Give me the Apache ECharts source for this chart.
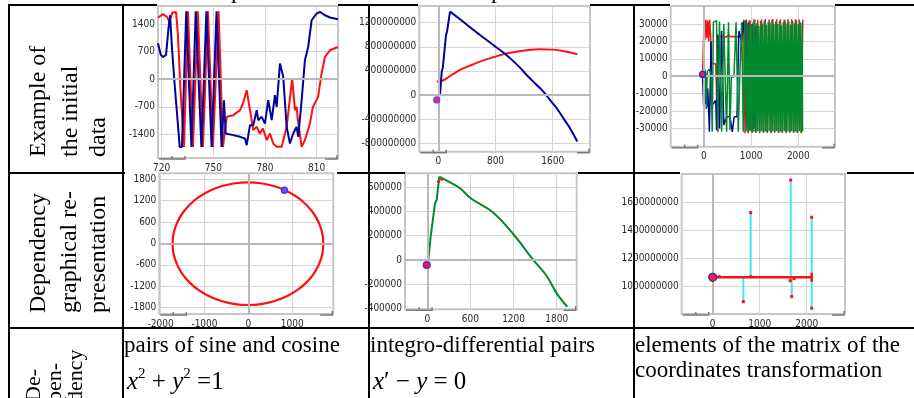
<!DOCTYPE html>
<html>
<head>
<meta charset="utf-8">
<script src="https://cdn.jsdelivr.net/npm/echarts@6/dist/echarts.min.js"></script>
<style>
  html, body { margin: 0; padding: 0; background: #fff; }
  #chart { width: 914px; height: 398px; }
</style>
</head>
<body>
<div id="chart"></div>
<script>

// row 1, col 1: initial data (two channels)
const c1XTicks = [720, 750, 780, 810];
const c1YTicks = [-1400, -700, 0, 700, 1400];
const c1Red = [[717.9,1560],[720.8,1650],[723.1,1580],[724.6,1450],[726.2,1690],[728.4,1700],[729.5,1100],[731,-300],[733,-1720],[734,-1720],[735.3,1720],[736,1720],[738.2,-1720],[738.9,-1720],[741,1720],[741.7,1720],[744,-1720],[744.7,-1720],[746.9,1720],[747.5,1720],[749.8,-1720],[750.4,-1720],[753.1,1720],[753.8,1720],[755.6,-1720],[756.2,-1720],[757.8,-955],[761.6,-913],[765.5,-786],[767.2,-617],[769.4,-280],[771.3,-786],[773.2,-1293],[775.2,-1209],[777.1,-1378],[778.8,-1251],[781,-1547],[782.9,-1378],[784.8,-1632],[786.8,-1717],[789.7,-1717],[792.6,-1209],[795.8,17],[797.4,-786],[798.4,-700],[799,-1000],[801.3,-1717],[803.2,-1547],[806.1,-1125],[807.8,-710],[810.8,-456],[812.9,152],[814.8,558],[817.7,735],[821.6,803],[822.4,810]];
const c1Blue = [[717.9,913],[719.5,620],[720.8,560],[722.6,620],[724,1300],[724.9,1620],[726,800],[727.5,-100],[729,-900],[730.5,-1720],[731.8,-1720],[734.3,1720],[735,1720],[737.3,-1720],[737.9,-1720],[739.8,1720],[740.4,1720],[743.1,-1720],[743.7,-1720],[746,1720],[746.6,1720],[749,-1720],[749.6,-1720],[751.9,1720],[752.5,1720],[754.8,-1720],[755.4,-1720],[756.2,-533],[757.2,-1378],[761.6,-1420],[765.5,-1463],[768.4,-1505],[769.4,-1674],[771.3,-1167],[773.2,-1167],[775.2,-786],[776.1,-1040],[778.1,-955],[780,-1125],[781.9,-533],[783.9,-1040],[785.8,-406],[786.8,-702],[788.7,397],[790.6,59],[792.6,-1209],[794.5,-1632],[796.4,-1378],[798.4,-1209],[799.3,-1463],[801.3,-533],[803.2,482],[805.1,820],[807.1,1496],[810,1666],[811.9,1707],[814.8,1623],[817.7,1565],[822.4,1522]];

// row 1, col 2
const c2XTicks = [0, 800, 1600];
const c2YTicks = [-800000000, -400000000, 0, 400000000, 800000000, 1200000000];
const c2BlueRise = [[-22,-82e6],[24,0],[48,387e6],[64,460e6],[108,996e6],[122,1050e6],[164,1383e6]];
const c2BlueFall = [[164,1383e6],[304,1256e6],[443,1123e6],[583,996e6],[769,830e6],[909,705e6],[1003,612e6],[1143,454e6],[1236,333e6],[1376,167e6],[1469,56e6],[1562,-82e6],[1656,-220e6],[1749,-386e6],[1842,-552e6],[1944,-773e6]];
const c2Red = [[-22,222e6],[48,233e6],[118,277e6],[210,349e6],[304,416e6],[443,487e6],[583,554e6],[769,626e6],[909,675e6],[1049,709e6],[1236,742e6],[1422,758e6],[1608,753e6],[1796,719e6],[1944,675e6]];
const c2Start = [[-22,-82e6]];

// row 1, col 3
const c3XTicks = [0, 1000, 2000];
const c3YTicks = [-30000, -20000, -10000, 0, 10000, 20000, 30000];
const c3Red = [[-30,1000],[0,30000],[20,21000],[40,32500],[60,22000],[80,32000],[100,20000],[120,32500],[140,24000],[160,7500],[250,7000],[290,-32000],[320,23000],[400,22700],[480,22500],[520,24000],[560,22700],[650,22800],[760,22500],[820,23000],[840,32500],[870,-32800],[900,32600],[940,-32900],[980,32000],[1020,-32700],[1060,32800],[1100,-32600],[1140,32400],[1180,-32800],[1220,32700],[1260,-32500],[1300,32900],[1340,-32600],[1380,32600],[1420,-32800],[1460,32900],[1500,-32500],[1540,32700],[1580,-32700],[1620,32800],[1660,-32600],[1700,32600],[1740,-32800],[1780,32900],[1820,-32500],[1860,32700],[1900,-32700],[1940,32800],[1980,-32600],[2020,32600],[2060,-32800],[2095,32500]];
const c3Blue = [[-30,1000],[0,-22000],[15,-8000],[30,-16000],[45,-5000],[60,-18000],[80,-7000],[100,-20000],[115,-32000],[130,-10000],[150,20000],[162,-17000],[250,-14000],[268,-31000],[290,24000],[330,-30000],[374,26000],[420,-28000],[480,-23300],[551,-23300],[600,-32000],[640,-23300],[700,-23300],[740,26000],[800,20000],[830,31000],[860,24000],[880,32000],[904,-30000],[940,31000],[980,-31000],[1020,30000],[1060,-30000],[1100,29000]];
const c3Green = [[-30,1000],[0,4500],[30,3000],[50,-19000],[70,2500],[110,4000],[150,1500],[175,-32000],[200,31000],[240,32000],[268,32000],[290,-32000],[330,31500],[374,-32000],[420,30000],[480,-32000],[520,31000],[551,-31000],[580,0],[635,-500],[680,31000],[727,-32000],[760,500],[800,31000],[833,-32000],[868,32000],[880,31500],[900,-31800],[920,30000],[940,-32200],[960,32200],[980,-31500],[1000,29000],[1020,-32400],[1040,31000],[1060,-31900],[1080,32500],[1100,-32300],[1120,30500],[1140,-31600],[1160,28800],[1180,-32100],[1200,31800],[1220,-31700],[1240,30200],[1260,-32300],[1280,32000],[1300,-31900],[1320,29500],[1340,-32000],[1360,31200],[1380,-31600],[1400,30800],[1420,-32200],[1440,32300],[1460,-31800],[1480,29800],[1500,-32100],[1520,31500],[1540,-31700],[1560,30000],[1580,-32300],[1600,31800],[1620,-31900],[1640,29200],[1660,-32000],[1680,31000],[1700,-31600],[1720,32000],[1740,-32200],[1760,30500],[1780,-31800],[1800,31300],[1820,-32100],[1840,29600],[1860,-31700],[1880,31800],[1900,-32300],[1920,30400],[1940,-31900],[1960,32100],[1980,-32000],[2000,29900],[2020,-31600],[2040,31000],[2060,-32200],[2080,30600],[2090,-31800]];
const c3Start = [[-30,1000]];

// row 2, col 1: sine / cosine pairs
const c4XTicks = [-2000, -1000, 0, 1000];
const c4YTicks = [-1800, -1200, -600, 0, 600, 1200, 1800];
const c4Circle = [[1712,-5],[1686,294],[1608,583],[1482,855],[1310,1101],[1098,1313],[852,1485],[580,1611],[291,1689],[-8,1715],[-307,1689],[-596,1611],[-868,1485],[-1114,1313],[-1326,1101],[-1498,855],[-1624,583],[-1702,294],[-1728,-5],[-1702,-304],[-1624,-593],[-1498,-865],[-1326,-1111],[-1114,-1323],[-868,-1495],[-596,-1621],[-307,-1699],[-8,-1725],[291,-1699],[580,-1621],[852,-1495],[1098,-1323],[1310,-1111],[1482,-865],[1608,-593],[1686,-304],[1712,-5]];
const c4Dot = [[822,1494]];

// row 2, col 2: integro-differential pairs
const c5XTicks = [0, 600, 1200, 1800];
const c5YTicks = [-400000, -200000, 0, 200000, 400000, 600000];
const c5Rise = [[-8,-42000],[14,0],[47,192000],[107,468000],[131,495000],[167,688000]];
const c5Fall = [[167,688000],[270,655000],[455,592000],[604,509000],[918,390000],[1206,206000],[1474,0],[1661,-133000],[1800,-276000],[1947,-387000]];
const c5Start = [[-8,-42000]];
const c5Dots = [[153,647000],[200,666000]];

// row 2, col 3: matrix elements
const c6XTicks = [0, 1000, 2000];
const c6YTicks = [1000000000, 1200000000, 1400000000, 1600000000];
const c6Base = [[0,1067e6],[2106,1067e6]];
const c6Stems = [[651,893e6,1067e6],[808,1067e6,1529e6],[1660,1043e6,1762e6],[1681,929e6,1067e6],[2106,846e6,1496e6]];
const c6Dots = [[140,1072e6],[651,893e6],[808,1529e6],[808,1072e6],[1650,1043e6],[1660,1762e6],[1681,929e6],[1730,1058e6],[2106,1496e6],[2106,846e6]];
const c6Start = [[0,1067e6]];

// table texts
const rowHeads = [
  ['Example of', 'the initial', 'data'],
  ['Dependency', 'graphical re-', 'presentation'],
  ['De-', 'pen-', 'dency']
];
const col1Text = 'pairs of sine and cosine';
const col2Text = 'integro-differential pairs';
const col3Text = ['elements of the matrix of the', 'coordinates transformation'];

// ---- layout / style ----
const SERIF = "'Liberation Serif', 'Times New Roman', serif";
const AXISFONT = "'Liberation Sans Narrow', 'Arial Narrow', 'DejaVu Sans Condensed', sans-serif";
const RED = '#ff1010', BLUE = '#00009c', GREEN = '#008a2e', CYAN = '#40e8f0';

const panels = [
  { rect: [158, 6, 180, 152],        x: [717.9, 822.4], y: [-2000, 1857],     xt: c1XTicks, yt: c1YTicks, zx: false, zy: true },
  { rect: [419.3, 6, 170.7, 145.7],  x: [-265.7, 2121.7], y: [-941e6, 1477e6], xt: c2XTicks, yt: c2YTicks, zx: true, zy: true },
  { rect: [670.7, 6, 164.3, 140.7],  x: [-705, 2777],   y: [-40540, 40370],   xt: c3XTicks, yt: c3YTicks, zx: true, zy: true },
  { rect: [159.3, 173.3, 174, 140.7], x: [-2030, 1938], y: [-1977, 1968],     xt: c4XTicks, yt: c4YTicks, zx: true, zy: true },
  { rect: [405, 173.3, 171.7, 136],  x: [-310, 2078],   y: [-408000, 715700], xt: c5XTicks, yt: c5YTicks, zx: true, zy: true },
  { rect: [681.7, 174, 163.3, 140],  x: [-660, 2815],   y: [805e6, 1805e6],   xt: c6XTicks, yt: c6YTicks, zx: true, zy: false }
];

function axis(dim, i, ext, ticks) {
  return {
    type: 'value', gridIndex: i, min: ext[0], max: ext[1],
    position: dim === 'x' ? 'bottom' : 'left',
    axisLine: { show: false, onZero: false },
    axisTick: { show: false, customValues: ticks },
    axisLabel: {
      customValues: ticks, margin: dim === 'x' ? 5 : 3,
      fontFamily: AXISFONT, fontSize: 10, color: '#2a2a2a',
      formatter: (v) => String(v), hideOverlap: false
    },
    splitLine: { show: true, lineStyle: { color: '#d4d4d4', width: 1 } },
    splitArea: { show: false }
  };
}

const grid = [], xAxis = [], yAxis = [], series = [];
panels.forEach((p, i) => {
  grid.push({
    left: p.rect[0], top: p.rect[1], width: p.rect[2], height: p.rect[3],
    show: true, backgroundColor: '#fff', borderColor: '#c6c6c6', borderWidth: 2,
    containLabel: false, outerBoundsMode: 'none'
  });
  xAxis.push(axis('x', i, p.x, p.xt));
  yAxis.push(axis('y', i, p.y, p.yt));
  const zeros = [];
  if (p.zx) zeros.push({ xAxis: 0 });
  if (p.zy) zeros.push({ yAxis: 0 });
  series.push({
    type: 'line', xAxisIndex: i, yAxisIndex: i, data: [], z: 1, silent: true,
    markLine: {
      silent: true, symbol: 'none', animation: false, label: { show: false },
      lineStyle: { color: '#b8b8b8', width: 2, type: 'solid' }, data: zeros
    }
  });
});

function line(i, data, color, width, extra) {
  return Object.assign({
    type: 'line', xAxisIndex: i, yAxisIndex: i, data: data,
    symbol: 'none', showSymbol: false, silent: true, animation: false,
    lineStyle: { color: color, width: width }, itemStyle: { color: color }
  }, extra || {});
}
function dots(i, data, fill, border, size, symbol) {
  return {
    type: 'scatter', xAxisIndex: i, yAxisIndex: i, data: data, symbolSize: size,
    symbol: symbol || 'circle', silent: true, animation: false, z: 5,
    itemStyle: { color: fill, borderColor: border || fill, borderWidth: border ? 1.2 : 0, opacity: 1 }
  };
}

series.push(line(0, c1Red, RED, 2));
series.push(line(0, c1Blue, BLUE, 2));

series.push(line(1, c2Red, RED, 2, { smooth: 0.4 }));
series.push(line(1, c2BlueRise, BLUE, 2));
series.push(line(1, c2BlueFall, BLUE, 2, { smooth: 0.4 }));
series.push(dots(1, c2Start, '#ff2050', '#5050ff', 6));

series.push(line(2, c3Red, RED, 1.5));
series.push(line(2, c3Blue, BLUE, 1.5));
series.push(line(2, c3Green, GREEN, 1.5));
series.push(dots(2, c3Start, '#ff2020', '#2020ff', 6));

series.push(line(3, c4Circle, RED, 2.2, { smooth: 0.3 }));
series.push(dots(3, c4Dot, '#8050d0', '#3030ff', 6));

series.push(line(4, c5Rise, GREEN, 2));
series.push(line(4, c5Fall, GREEN, 2, { smooth: 0.4 }));
series.push(dots(4, c5Dots, RED, null, 3));
series.push(dots(4, c5Start, '#ff1030', '#3030ff', 7));

c6Stems.forEach((s) => {
  series.push(line(5, [[s[0], s[1]], [s[0], s[2]]], CYAN, 2));
});
series.push(line(5, c6Base, RED, 2.5));
series.push(dots(5, [c6Base[c6Base.length - 1]], RED, null, [2.5, 9], 'rect'));
series.push(dots(5, c6Dots, RED, null, 3, 'rect'));
series.push(dots(5, c6Start, '#ff2020', '#2020ff', 8));

// ---- table rules, scroll-bar stubs and texts ----
const graphic = [];
const hRules = [
  [5,   [[8, 157], [338, 418], [590, 670], [835, 914]]],
  [173, [[8, 125], [337, 405], [578, 680], [847, 914]]],
  [328, [[8, 914]]]
];
hRules.forEach(([y, segs]) => segs.forEach(([a, b]) => graphic.push({
  type: 'line', silent: true, z: 0, shape: { x1: a, y1: y, x2: b, y2: y },
  style: { stroke: '#000', lineWidth: 2 }
})));
[9, 123, 369, 634].forEach((x) => graphic.push({
  type: 'line', silent: true, z: 0, shape: { x1: x, y1: 4, x2: x, y2: 398 },
  style: { stroke: '#000', lineWidth: 2 }
}));

panels.forEach((p) => {
  const l = p.rect[0], r = p.rect[0] + p.rect[2], b = p.rect[1] + p.rect[3];
  const st = { stroke: '#7a7a7a', lineWidth: 1.5, fill: null };
  graphic.push({ type: 'polyline', silent: true, z: 10, shape: { points: [[l + 1, b + 1], [l + 27, b + 1], [l + 27, b - 2]] }, style: st });
  graphic.push({ type: 'line', silent: true, z: 10, shape: { x1: l + 14, y1: b + 1, x2: l + 14, y2: b - 2 }, style: st });
  graphic.push({ type: 'polyline', silent: true, z: 10, shape: { points: [[r - 13, b + 1], [r - 1, b + 1], [r - 1, b - 3]] }, style: st });
});

// descenders of the cut-off heading above the table
[237, 497].forEach((x) => graphic.push({
  type: 'text', silent: true, x: x, y: -8,
  style: { text: 'p', font: '24px ' + SERIF, fill: '#000', align: 'center', verticalAlign: 'middle', textAlign: 'center', textVerticalAlign: 'middle' }
}));

const headX = [[38.7, 70.3, 98.7], [38.7, 69.3, 98.7], [34, 55, 76]];
const headY = [157, 313, 402];
const headSize = [24, 24, 22];
rowHeads.forEach((lines, r) => lines.forEach((t, k) => graphic.push({
  type: 'text', silent: true, x: headX[r][k], y: headY[r], rotation: Math.PI / 2,
  style: { text: t, font: headSize[r] + 'px ' + SERIF, fill: '#000', align: 'left', verticalAlign: 'middle', textAlign: 'left', textVerticalAlign: 'middle' }
})));

function plain(t, x, y) {
  return {
    type: 'text', silent: true, x: x, y: y,
    style: { text: t, font: '23px ' + SERIF, fill: '#000', align: 'left', verticalAlign: 'middle', textAlign: 'left', textVerticalAlign: 'middle' }
  };
}
graphic.push(plain(col1Text, 124, 346));
graphic.push(plain(col2Text, 370, 346));
graphic.push(plain(col3Text[0], 635, 346));
graphic.push(plain(col3Text[1], 635, 371));

const mathRich = {
  i: { fontFamily: SERIF, fontStyle: 'italic', fontSize: 25, verticalAlign: 'bottom', lineHeight: 28 },
  n: { fontFamily: SERIF, fontSize: 25, verticalAlign: 'bottom', lineHeight: 28 },
  s: { fontFamily: SERIF, fontSize: 15, verticalAlign: 'top', lineHeight: 28 }
};
graphic.push({
  type: 'text', silent: true, x: 127, y: 381,
  style: { text: '{i|x}{s|2}{n| + }{i|y}{s|2}{n| =1}', rich: mathRich, fill: '#000', align: 'left', verticalAlign: 'middle', textAlign: 'left', textVerticalAlign: 'middle' }
});
graphic.push({
  type: 'text', silent: true, x: 373, y: 381,
  style: { text: '{i|x}{n|\u2032 \u2212 }{i|y}{n| = 0}', rich: mathRich, fill: '#000', align: 'left', verticalAlign: 'middle', textAlign: 'left', textVerticalAlign: 'middle' }
});

const chart = echarts.init(document.getElementById('chart'), null, { renderer: 'canvas' });
chart.setOption({
  animation: false,
  backgroundColor: '#fff',
  grid: grid,
  xAxis: xAxis,
  yAxis: yAxis,
  series: series,
  graphic: graphic
});
</script>
</body>
</html>
